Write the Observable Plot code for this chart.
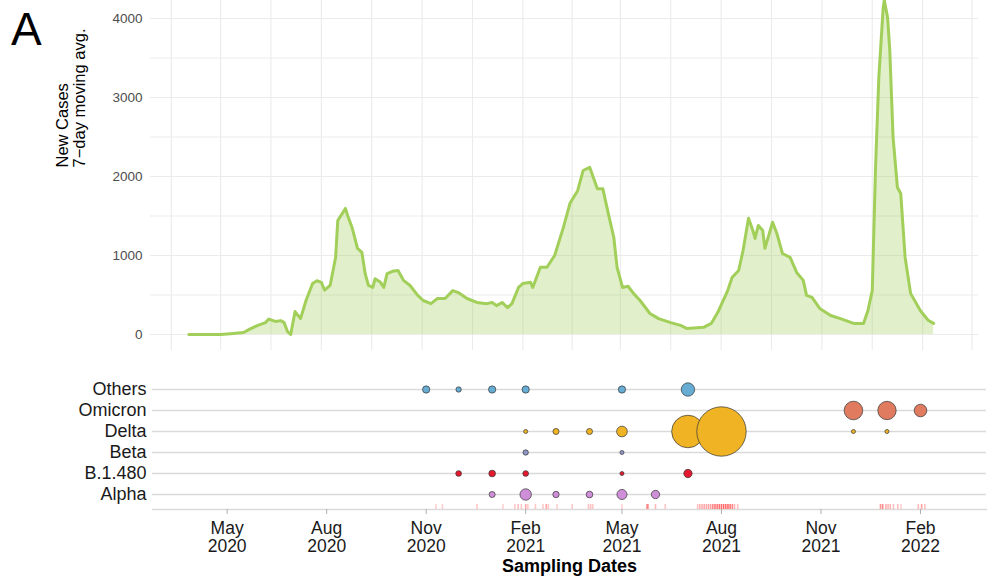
<!DOCTYPE html>
<html><head><meta charset="utf-8">
<script src="https://cdn.jsdelivr.net/npm/d3@7"></script>
<script src="https://cdn.jsdelivr.net/npm/@observablehq/plot@0.6"></script>
<style>
body{margin:0;background:#fff;}
#wrap{position:relative;width:988px;height:577px;font-family:"Liberation Sans",Arial,sans-serif;overflow:hidden;}
#panelA{position:absolute;left:11px;top:6px;font-size:46px;color:#000;line-height:1;}
#top{position:absolute;left:0;top:0;}
#bottom{position:absolute;left:0;top:352px;}
</style></head>
<body><div id="wrap"><div id="top"></div><div id="bottom"></div><div id="panelA">A</div></div>
<script>
// ---- New cases, 7-day moving average ----
const caseDates = ["2020-04-02","2020-05-01","2020-05-10","2020-05-22","2020-05-28","2020-06-04","2020-06-11","2020-06-14","2020-06-20","2020-06-25","2020-06-28","2020-07-01","2020-07-04","2020-07-08","2020-07-13","2020-07-18","2020-07-24","2020-07-28","2020-08-01","2020-08-04","2020-08-09","2020-08-14","2020-08-16","2020-08-20","2020-08-23","2020-08-25","2020-08-29","2020-09-03","2020-09-07","2020-09-10","2020-09-13","2020-09-17","2020-09-19","2020-09-24","2020-09-27","2020-09-30","2020-10-05","2020-10-10","2020-10-15","2020-10-21","2020-10-28","2020-11-02","2020-11-09","2020-11-15","2020-11-22","2020-11-29","2020-12-04","2020-12-12","2020-12-21","2020-12-30","2021-01-04","2021-01-08","2021-01-13","2021-01-18","2021-01-22","2021-01-28","2021-02-01","2021-02-08","2021-02-10","2021-02-17","2021-02-23","2021-03-02","2021-03-10","2021-03-16","2021-03-23","2021-03-28","2021-04-03","2021-04-10","2021-04-15","2021-04-20","2021-04-25","2021-04-28","2021-05-03","2021-05-08","2021-05-13","2021-05-19","2021-05-28","2021-06-05","2021-06-16","2021-06-25","2021-07-01","2021-07-16","2021-07-23","2021-07-29","2021-08-07","2021-08-11","2021-08-17","2021-08-21","2021-08-26","2021-08-30","2021-09-01","2021-09-04","2021-09-08","2021-09-10","2021-09-17","2021-09-21","2021-09-26","2021-10-03","2021-10-09","2021-10-15","2021-10-18","2021-10-23","2021-10-30","2021-11-09","2021-11-18","2021-11-30","2021-12-09","2021-12-13","2021-12-17","2021-12-20","2021-12-23","2021-12-27","2021-12-28","2021-12-31","2022-01-02","2022-01-05","2022-01-09","2022-01-12","2022-01-16","2022-01-21","2022-01-30","2022-02-06","2022-02-11"];
const caseValues = [0,0,10,25,70,115,150,195,165,175,150,40,0,290,200,430,645,680,660,560,620,975,1443,1530,1595,1505,1355,1090,1040,770,620,595,705,660,595,770,800,810,685,620,495,430,390,455,455,555,530,455,405,390,405,365,405,340,390,595,645,660,595,850,850,1000,1355,1660,1820,2075,2115,1845,1845,1530,1230,850,595,610,520,430,265,200,150,115,75,90,140,280,555,720,810,1060,1470,1315,1215,1380,1315,1090,1420,1275,1025,975,785,685,495,470,330,240,200,140,140,300,555,2115,3255,4140,4230,4010,3595,2495,1860,1785,975,520,300,180,140];

// ---- Top axis ticks ----
const yTicks = [0, 1000, 2000, 3000, 4000];
const yGrid = [0, 500, 1000, 1500, 2000, 2500, 3000, 3500, 4000];
const majorTicks = ["2020-05-01","2020-08-01","2020-11-01","2021-02-01","2021-05-01","2021-08-01","2021-11-01","2022-02-01"];
const minorTicks = ["2020-03-17","2020-06-16","2020-09-16","2020-12-17","2021-03-18","2021-06-16","2021-09-16","2021-12-17","2022-03-18"];

// ---- Variants ----
const variants = ["Others","Omicron","Delta","Beta","B.1.480","Alpha"];
const variantColors = ["#67acd3","#e07b5f","#efb323","#8f97c9","#e5192e","#cf8fd8"];
const sampleVariant = ["Others","Others","Others","Others","Others","Others",
  "Omicron","Omicron","Omicron",
  "Delta","Delta","Delta","Delta","Delta","Delta","Delta","Delta",
  "Beta","Beta",
  "B.1.480","B.1.480","B.1.480","B.1.480","B.1.480",
  "Alpha","Alpha","Alpha","Alpha","Alpha","Alpha"];
const sampleDates = ["2020-11-01","2020-12-01","2021-01-01","2021-02-01","2021-05-01","2021-07-01",
  "2021-12-01","2022-01-01","2022-02-01",
  "2021-02-01","2021-03-01","2021-04-01","2021-05-01","2021-07-01","2021-08-01","2021-12-01","2022-01-01",
  "2021-02-01","2021-05-01",
  "2020-12-01","2021-01-01","2021-02-01","2021-05-01","2021-07-01",
  "2021-01-01","2021-02-01","2021-03-01","2021-04-01","2021-05-01","2021-06-01"];
const sampleCounts = [13,7,13,13,13,44,
  85,83,39,
  4,9,9,28,261,600,4,4,
  7,4,
  8,11,8,4,17,
  9,32,10,11,25,17];

// ---- Sampling-date rug ----
const rugDates = ["2020-11-10","2020-11-16","2020-12-18","2021-01-11","2021-01-22","2021-01-25","2021-01-28","2021-02-01","2021-02-03","2021-02-10","2021-02-17","2021-02-20","2021-02-22","2021-03-02","2021-03-16","2021-03-31","2021-04-02","2021-04-04","2021-05-01","2021-05-24","2021-05-25","2021-06-01","2021-06-10",
  "2021-07-10","2021-07-12","2021-07-14","2021-07-16","2021-07-18","2021-07-20","2021-07-22","2021-07-24","2021-07-26","2021-07-28","2021-07-30","2021-08-01","2021-08-03","2021-08-05","2021-08-07","2021-08-09","2021-08-11","2021-08-13","2021-08-16",
  "2021-12-26","2021-12-28","2021-12-31","2022-01-02","2022-01-04","2022-01-07","2022-01-11","2022-01-14","2022-01-30","2022-02-02","2022-02-05"];
const rugAlpha = [0.3,0.3,0.35,0.3,0.35,0.4,0.35,0.55,0.35,0.35,0.35,0.55,0.35,0.3,0.35,0.35,0.4,0.35,0.3,0.55,0.75,0.45,0.35,
  0.4,0.5,0.5,0.55,0.55,0.6,0.6,0.75,0.85,0.85,0.9,0.95,0.95,0.9,0.95,0.85,0.75,0.5,0.4,
  0.65,0.75,0.5,0.45,0.45,0.4,0.4,0.3,0.45,0.6,0.4];

const FONT = '"Liberation Sans", Arial, sans-serif';
const caseData = caseDates.map((d, i) => ({date: new Date(d), value: caseValues[i]}));
const samples = sampleDates.map((d, i) => ({date: new Date(d), variant: sampleVariant[i], n: sampleCounts[i]}));
const rug = rugDates.map((d, i) => ({date: new Date(d), alpha: rugAlpha[i]}));
const green = "#a2cf5a";

const topPlot = Plot.plot({
  width: 988, height: 352,
  marginLeft: 150, marginRight: 10, marginTop: 0, marginBottom: 2,
  style: {fontFamily: FONT, background: "transparent", overflow: "visible"},
  x: {type: "utc", domain: [new Date("2020-02-27"), new Date("2022-03-24")], axis: null},
  y: {domain: [-203, 4227], axis: null},
  marks: [
    Plot.gridX([...majorTicks, ...minorTicks].map(d => new Date(d)), {stroke: "#ebebeb", strokeOpacity: 1, strokeWidth: 1.1}),
    Plot.gridY(yGrid, {stroke: "#ebebeb", strokeOpacity: 1, strokeWidth: 1.1}),
    Plot.areaY(caseData, {x: "date", y: "value", fill: green, fillOpacity: 0.32, clip: true}),
    Plot.lineY(caseData, {x: "date", y: "value", stroke: green, strokeWidth: 3, clip: true}),
    Plot.axisY(yTicks, {tickSize: 0, tickPadding: 8, fontSize: 13.5, fill: "#4d4d4d", label: null, tickFormat: d => String(d)}),
    Plot.text(["New Cases\n7\u2212day moving avg."], {text: d => d, frameAnchor: "left", rotate: -90, dx: -79.5, dy: -8, fontSize: 16.5, lineHeight: 1.03, fill: "#000"})
  ]
});
document.getElementById("top").appendChild(topPlot);

const bottomPlot = Plot.plot({
  width: 988, height: 225,
  marginLeft: 152, marginRight: 2, marginTop: 22, marginBottom: 68,
  style: {fontFamily: FONT, background: "transparent", overflow: "visible"},
  x: {type: "utc", domain: [new Date("2020-02-22"), new Date("2022-04-03")], axis: null},
  y: {type: "point", domain: variants, padding: 0.6, axis: null},
  r: {type: "sqrt", domain: [0, 600], range: [0, 24.7]},
  color: {domain: variants, range: variantColors},
  opacity: {type: "identity"},
  marks: [
    Plot.ruleY(variants, {y: d => d, stroke: "#dadada", strokeWidth: 1.3}),
    Plot.frame({anchor: "bottom", stroke: "#dadada", strokeWidth: 1.3}),
    Plot.ruleX(rug, {x: "date", stroke: "#ff6262", strokeOpacity: "alpha", insetTop: 130, strokeWidth: 1.6}),
    Plot.dot(samples, {x: "date", y: "variant", r: "n", fill: "variant", stroke: "#333", strokeWidth: 0.7, sort: null}),
    Plot.axisY({tickSize: 0, tickPadding: 6, fontSize: 18, fill: "#1a1a1a", label: null}),
    Plot.axisX(majorTicks.map(d => new Date(d)), {tickSize: 5, tickPadding: 6, fontSize: 17.5, lineHeight: 1.05, fill: "#1a1a1a", stroke: "#b0b0b0", tickFormat: d3.utcFormat("%b\n%Y"), label: null}),
    Plot.text(["Sampling Dates"], {text: d => d, frameAnchor: "bottom", dy: 62, fontSize: 18, fontWeight: "bold", fill: "#000"})
  ]
});
document.getElementById("bottom").appendChild(bottomPlot);
</script>
</body></html>
